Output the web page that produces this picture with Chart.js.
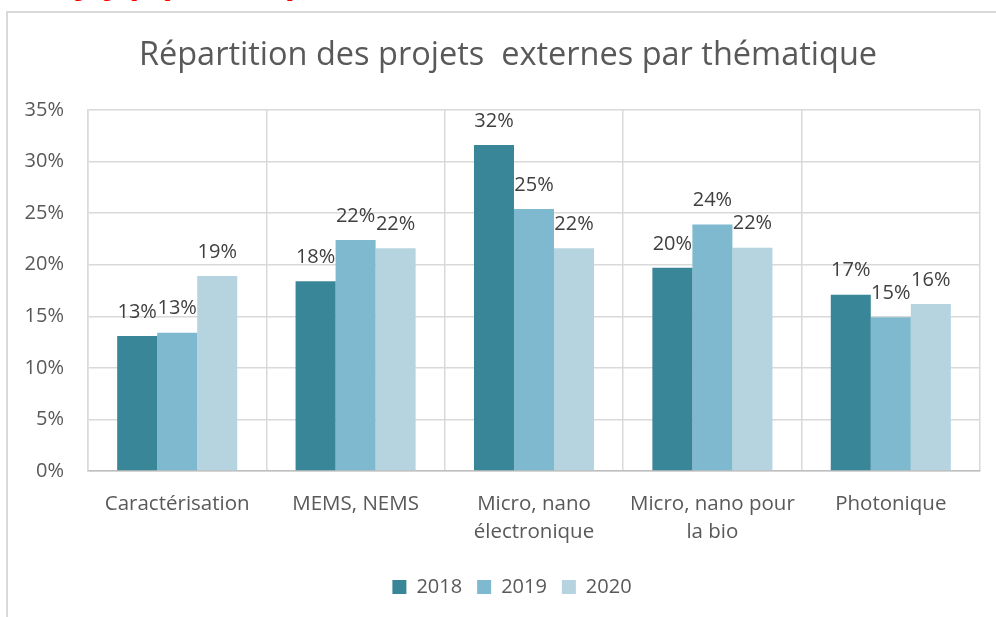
<!DOCTYPE html>
<html lang="fr">
<head>
<meta charset="utf-8">
<title>Répartition des projets externes par thématique</title>
<script src="https://cdn.jsdelivr.net/npm/chart.js@4/dist/chart.umd.min.js"></script>
<style>
  html, body { margin: 0; padding: 0; background: #ffffff; }
  #page { position: relative; width: 996px; height: 617px; overflow: hidden; background: #ffffff; }
  #heading {
    position: absolute; right: 569px; top: -21px; white-space: nowrap;
    font: bold 20px "Liberation Serif", serif; line-height: 20px; color: #ff0000;
  }
  #frame {
    position: absolute; left: 6px; top: 11px; width: 1000px; height: 700px;
    border: 2px solid #d9d9d9; box-sizing: border-box;
  }
  #wrap { position: absolute; left: 0; top: 0; width: 996px; height: 617px; }
</style>
</head>
<body>
<div id="page">
  <div id="heading">Répartition géographique et thématiques des données</div>
  <div id="frame"></div>
  <div id="wrap"><canvas id="chart" width="996" height="617"></canvas></div>
</div>
<script>
// Thematic categories (multi-line labels as arrays)
const categories = [
  'Caractérisation',
  'MEMS, NEMS',
  ['Micro, nano', 'électronique'],
  ['Micro, nano pour', 'la bio'],
  'Photonique'
];
const years = ['2018', '2019', '2020'];

// Share of external projects per theme (%)
const values2018 = [13.1, 18.4, 31.6, 19.7, 17.1];
const values2019 = [13.4, 22.4, 25.4, 23.9, 14.9];
const values2020 = [18.9, 21.6, 21.6, 21.65, 16.2];

const yTicks = [0, 5, 10, 15, 20, 25, 30, 35];

const seriesColors = ['#3a8699', '#7eb9cf', '#b6d4df'];
const textColor = '#595959';
const labelFont = '"Open Sans", sans-serif';

// Value labels above each bar
const barValueLabels = {
  id: 'barValueLabels',
  afterDatasetsDraw(chart) {
    const ctx = chart.ctx;
    ctx.save();
    ctx.font = '20px ' + labelFont;
    ctx.fillStyle = '#404040';
    ctx.textAlign = 'center';
    ctx.textBaseline = 'middle';
    chart.data.datasets.forEach((ds, i) => {
      const meta = chart.getDatasetMeta(i);
      meta.data.forEach((bar, j) => {
        ctx.fillText(Math.round(ds.data[j]) + '%', bar.x, bar.y - 24);
      });
    });
    ctx.restore();
  }
};

// Center the title and legend under the frame rather than the plot box
const blockShift = {
  id: 'blockShift',
  afterLayout(chart) {
    if (chart.legend) {
      chart.legend.left += 22;
      chart.legend.right += 22;
    }
    if (chart.titleBlock) {
      chart.titleBlock.left += 18;
      chart.titleBlock.right += 18;
    }
  }
};

new Chart(document.getElementById('chart'), {
  type: 'bar',
  data: {
    labels: categories,
    datasets: [
      { label: years[0], data: values2018, backgroundColor: seriesColors[0] },
      { label: years[1], data: values2019, backgroundColor: seriesColors[1] },
      { label: years[2], data: values2020, backgroundColor: seriesColors[2] }
    ]
  },
  options: {
    responsive: false,
    animation: false,
    events: [],
    layout: { padding: { left: 0, right: 16, top: 0, bottom: 10 } },
    datasets: {
      bar: { categoryPercentage: 0.673, barPercentage: 1.0, borderWidth: 0 }
    },
    plugins: {
      title: {
        display: true,
        text: 'Répartition des projets  externes par thématique',
        color: textColor,
        font: { family: labelFont, size: 32.5, weight: 'normal' },
        padding: { top: 36, bottom: 35 }
      },
      legend: {
        position: 'bottom',
        labels: {
          color: textColor,
          font: { family: labelFont, size: 20 },
          boxWidth: 14,
          boxHeight: 14,
          padding: 15
        }
      },
      tooltip: { enabled: false }
    },
    scales: {
      x: {
        offset: true,
        grid: { display: true, offset: true, color: '#d9d9d9', lineWidth: 1.5, drawTicks: false },
        border: { display: true, color: '#bfbfbf', width: 1.5 },
        ticks: {
          color: textColor,
          font: { family: labelFont, size: 20.5, lineHeight: 1.36 },
          padding: 19,
          maxRotation: 0,
          autoSkip: false
        },
        afterFit(scale) { scale.height = 91; }
      },
      y: {
        min: 0,
        max: 35,
        afterBuildTicks(scale) { scale.ticks = yTicks.map(v => ({ value: v })); },
        grid: { color: '#d9d9d9', lineWidth: 1.5, drawTicks: false },
        border: { display: true, color: '#d9d9d9', width: 1.5 },
        ticks: {
          color: textColor,
          font: { family: labelFont, size: 20 },
          padding: 24,
          callback: v => v + '%'
        },
        afterFit(scale) { scale.width = 88; }
      }
    }
  },
  plugins: [barValueLabels, blockShift]
});
</script>
</body>
</html>
